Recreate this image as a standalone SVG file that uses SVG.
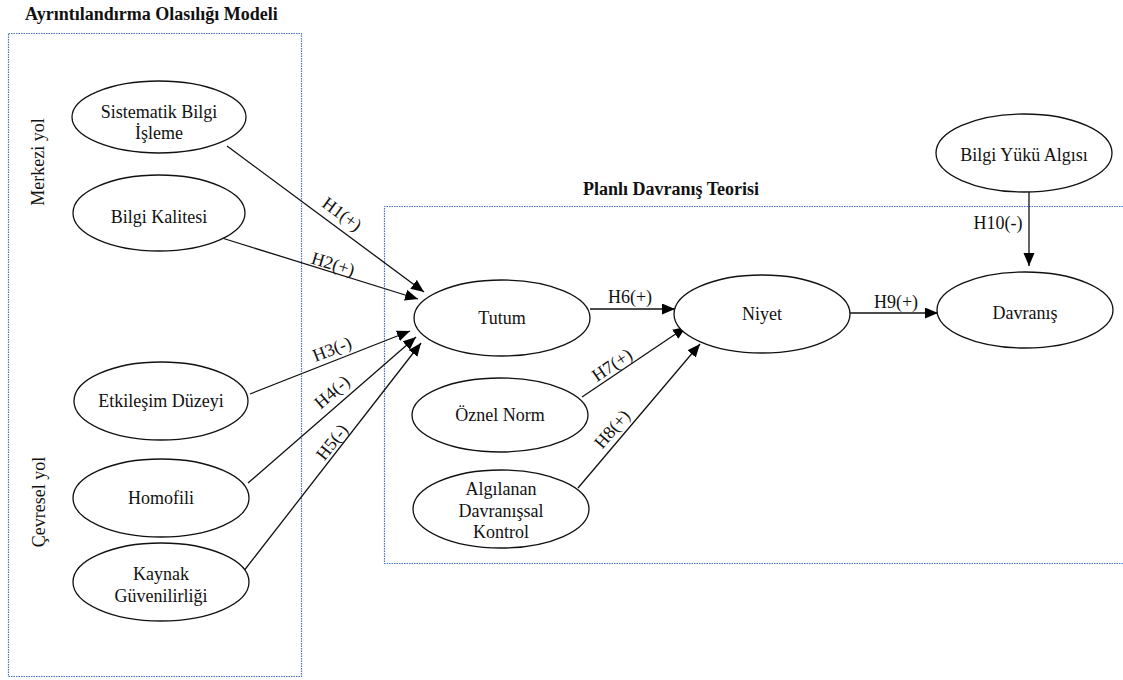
<svg xmlns="http://www.w3.org/2000/svg" width="1123" height="680" viewBox="0 0 1123 680">
<style>
.t{font-family:"Liberation Serif","Times New Roman",serif;font-size:18px;fill:#111;text-anchor:middle}
.b{font-family:"Liberation Serif","Times New Roman",serif;font-size:18px;font-weight:bold;fill:#111}
.e{fill:#fff;stroke:#111;stroke-width:1.3}
.c{stroke:#111;stroke-width:1.3;fill:none;marker-end:url(#ah)}
.box{fill:none;stroke:#4a72c0;stroke-width:1.2;stroke-dasharray:1.5 1}
</style>
<defs>
<marker id="ah" markerUnits="userSpaceOnUse" markerWidth="14" markerHeight="12" refX="13" refY="5.5" orient="auto">
<path d="M0,0 L13,5.5 L0,11 z" fill="#000"/>
</marker>
</defs>
<rect width="1123" height="680" fill="#fff"/>
<g id="frames">
<text class="b" x="25" y="20">Ayrıntılandırma Olasılığı Modeli</text>
<rect class="box" x="8.5" y="33.5" width="293" height="643"/>
<text class="t" transform="translate(44,162) rotate(-90)">Merkezi yol</text>
<text class="t" transform="translate(45,502) rotate(-90)">Çevresel yol</text>
<text class="b" x="583" y="195">Planlı Davranış Teorisi</text>
<path class="box" d="M1123,206.5 H384.5 V563.5 H1123"/>
</g>
<g id="connectors">
<line class="c" x1="227" y1="146" x2="424" y2="292"/>
<line class="c" x1="222" y1="238" x2="418" y2="299"/>
<line class="c" x1="250" y1="394" x2="410" y2="331"/>
<line class="c" x1="248" y1="483" x2="416" y2="337"/>
<line class="c" x1="243" y1="572" x2="421" y2="343"/>
<line class="c" x1="590" y1="309" x2="675" y2="309"/>
<line class="c" x1="582" y1="397" x2="686" y2="327"/>
<line class="c" x1="578" y1="488" x2="700" y2="344"/>
<line class="c" x1="850" y1="313" x2="938" y2="313"/>
<line class="c" x1="1029" y1="192" x2="1029" y2="266"/>
<text class="t" transform="translate(342,214) rotate(36.5)" dy="6">H1(+)</text>
<text class="t" transform="translate(333,264) rotate(17)" dy="6">H2(+)</text>
<text class="t" transform="translate(332,349) rotate(-21.5)" dy="6">H3(-)</text>
<text class="t" transform="translate(332,392) rotate(-41)" dy="6">H4(-)</text>
<text class="t" transform="translate(332,442) rotate(-52)" dy="6">H5(-)</text>
<text class="t" x="630" y="303">H6(+)</text>
<text class="t" transform="translate(612,365) rotate(-34)" dy="6">H7(+)</text>
<text class="t" transform="translate(612,429) rotate(-49.5)" dy="6">H8(+)</text>
<text class="t" x="896" y="308">H9(+)</text>
<text class="t" x="998" y="229">H10(-)</text>
</g>
<g id="n-sistematik"><ellipse class="e" cx="159" cy="117" rx="87" ry="36"/><text class="t" x="159" y="118">Sistematik Bilgi</text><text class="t" x="159" y="139">İşleme</text></g>
<g id="n-kalite"><ellipse class="e" cx="159" cy="213" rx="86" ry="38"/><text class="t" x="159" y="223">Bilgi Kalitesi</text></g>
<g id="n-etkilesim"><ellipse class="e" cx="161" cy="401" rx="87" ry="39"/><text class="t" x="161" y="407">Etkileşim Düzeyi</text></g>
<g id="n-homofili"><ellipse class="e" cx="161" cy="498" rx="88" ry="39"/><text class="t" x="161" y="504">Homofili</text></g>
<g id="n-kaynak"><ellipse class="e" cx="161" cy="582" rx="88" ry="39"/><text class="t" x="161" y="580">Kaynak</text><text class="t" x="161" y="602">Güvenilirliği</text></g>
<g id="n-tutum"><ellipse class="e" cx="502" cy="318" rx="88" ry="38"/><text class="t" x="502" y="324">Tutum</text></g>
<g id="n-oznel"><ellipse class="e" cx="500" cy="415" rx="88" ry="37"/><text class="t" x="500" y="421">Öznel Norm</text></g>
<g id="n-algilanan"><ellipse class="e" cx="501" cy="509" rx="88" ry="39"/><text class="t" x="501" y="495">Algılanan</text><text class="t" x="501" y="517">Davranışsal</text><text class="t" x="501" y="538">Kontrol</text></g>
<g id="n-niyet"><ellipse class="e" cx="762" cy="314" rx="88" ry="39"/><text class="t" x="762" y="320">Niyet</text></g>
<g id="n-davranis"><ellipse class="e" cx="1025" cy="310" rx="88" ry="38"/><text class="t" x="1025" y="319">Davranış</text></g>
<g id="n-bilgiyuku"><ellipse class="e" cx="1024" cy="153" rx="88" ry="39"/><text class="t" x="1024" y="161">Bilgi Yükü Algısı</text></g>
</svg>
